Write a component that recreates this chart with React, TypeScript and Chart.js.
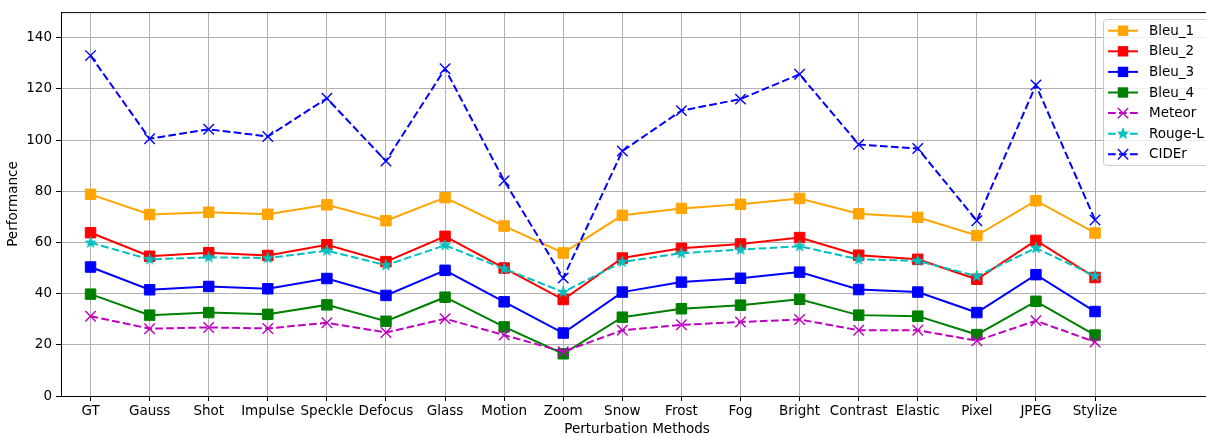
import React, { useEffect, useRef } from "react";
import { Chart, registerables } from "chart.js";
Chart.register(...registerables);

const categories = ["GT", "Gauss", "Shot", "Impulse", "Speckle", "Defocus", "Glass", "Motion", "Zoom", "Snow", "Frost", "Fog", "Bright", "Contrast", "Elastic", "Pixel", "JPEG", "Stylize"];
const bleu1 = [78.8, 70.9, 71.8, 71.0, 74.7, 68.5, 77.5, 66.4, 55.9, 70.6, 73.3, 74.9, 77.2, 71.2, 69.8, 62.7, 76.3, 63.7];
const bleu2 = [63.8, 54.6, 56.0, 54.9, 59.1, 52.5, 62.4, 50.0, 37.7, 53.9, 57.7, 59.4, 61.9, 55.0, 53.4, 45.6, 60.8, 46.3];
const bleu3 = [50.4, 41.5, 42.8, 41.9, 45.9, 39.3, 49.1, 36.8, 24.6, 40.6, 44.5, 46.0, 48.4, 41.6, 40.6, 32.6, 47.4, 33.0];
const bleu4 = [39.8, 31.6, 32.6, 31.9, 35.6, 29.2, 38.6, 27.0, 16.5, 30.8, 34.1, 35.5, 37.8, 31.6, 31.2, 24.0, 37.0, 23.8];
const meteor = [31.2, 26.3, 26.8, 26.4, 28.6, 24.8, 30.2, 23.8, 17.3, 25.7, 27.8, 28.9, 29.9, 25.7, 25.7, 21.6, 29.4, 21.1];
const rougeL = [59.9, 53.4, 54.2, 53.9, 56.8, 51.1, 58.9, 49.7, 40.6, 52.4, 55.8, 57.2, 58.5, 53.4, 52.8, 46.8, 57.8, 46.9];
const cider = [133.0, 100.5, 104.2, 101.4, 116.3, 91.8, 127.9, 84.1, 46.1, 95.7, 111.5, 116.0, 125.7, 98.3, 96.7, 68.5, 121.5, 68.8];
const yTicks = [0, 20, 40, 60, 80, 100, 120, 140];

const FONT = "DejaVu Sans";
const FS = 13.5;
const DASH = [7.7, 3.3];
const W = 1222;
const H = 436;

function makeStar(color: string, r: number) {
  const size = Math.ceil(r * 2 + 4);
  const c = document.createElement("canvas");
  c.width = size;
  c.height = size;
  const ctx = c.getContext("2d")!;
  const cx = size / 2, cy = size / 2;
  const inner = r * 0.381966;
  ctx.beginPath();
  for (let i = 0; i < 10; i++) {
    const rr = i % 2 === 0 ? r : inner;
    const a = -Math.PI / 2 + (i * Math.PI) / 5;
    const x = cx + rr * Math.cos(a);
    const y = cy + rr * Math.sin(a);
    if (i === 0) ctx.moveTo(x, y);
    else ctx.lineTo(x, y);
  }
  ctx.closePath();
  ctx.fillStyle = color;
  ctx.fill();
  ctx.lineWidth = 1;
  ctx.strokeStyle = color;
  ctx.stroke();
  return c;
}

type Series = { label: string; data: number[]; color: string; marker: string; dashed: boolean };
const series: Series[] = [
  { label: "Bleu_1", data: bleu1, color: "#FFA500", marker: "rect", dashed: false },
  { label: "Bleu_2", data: bleu2, color: "#FF0000", marker: "rect", dashed: false },
  { label: "Bleu_3", data: bleu3, color: "#0000FF", marker: "rect", dashed: false },
  { label: "Bleu_4", data: bleu4, color: "#008000", marker: "rect", dashed: false },
  { label: "Meteor", data: meteor, color: "#BF00BF", marker: "crossRot", dashed: true },
  { label: "Rouge-L", data: rougeL, color: "#00BFBF", marker: "star", dashed: true },
  { label: "CIDEr", data: cider, color: "#0000FF", marker: "crossRot", dashed: true },
];

export default function App() {
  const ref = useRef<HTMLCanvasElement | null>(null);
  useEffect(() => {
    document.body.style.margin = "0";
    document.body.style.overflow = "hidden";
    document.documentElement.style.overflow = "hidden";
    const star = makeStar("#00BFBF", 5.6);
    const datasets = series.map((s, i) => ({
      label: s.label,
      data: s.data.map((v, j) => ({ x: j, y: v })),
      borderColor: s.color,
      backgroundColor: s.color,
      borderWidth: 2,
      borderDash: s.dashed ? DASH : [],
      pointStyle: s.marker === "star" ? (star as any) : s.marker,
      pointRadius: 7.4,
      pointBorderWidth: s.marker === "rect" ? 1 : 1.4,
      pointBackgroundColor: s.color,
      pointBorderColor: s.color,
      tension: 0,
      fill: false,
      order: series.length - i,
    }));

    const framePlugin = {
      id: "frame",
      afterDraw(chart: any) {
        const { ctx, chartArea } = chart;
        ctx.save();
        ctx.strokeStyle = "#000";
        ctx.lineWidth = 1;
        ctx.beginPath();
        ctx.moveTo(chartArea.left, chartArea.top + 0.5);
        ctx.lineTo(chartArea.right, chartArea.top + 0.5);
        ctx.moveTo(chartArea.right - 0.5, chartArea.top);
        ctx.lineTo(chartArea.right - 0.5, chartArea.bottom);
        ctx.stroke();

        // legend
        const bx = 1103.5, by = 19.5, bw = 108, bh = 146, rad = 3;
        ctx.beginPath();
        ctx.moveTo(bx + rad, by);
        ctx.lineTo(bx + bw - rad, by);
        ctx.arcTo(bx + bw, by, bx + bw, by + rad, rad);
        ctx.lineTo(bx + bw, by + bh - rad);
        ctx.arcTo(bx + bw, by + bh, bx + bw - rad, by + bh, rad);
        ctx.lineTo(bx + rad, by + bh);
        ctx.arcTo(bx, by + bh, bx, by + bh - rad, rad);
        ctx.lineTo(bx, by + rad);
        ctx.arcTo(bx, by, bx + rad, by, rad);
        ctx.closePath();
        ctx.fillStyle = "rgba(255,255,255,0.8)";
        ctx.fill();
        ctx.strokeStyle = "#cccccc";
        ctx.lineWidth = 1;
        ctx.stroke();

        ctx.font = `${FS}px "${FONT}"`;
        ctx.textBaseline = "middle";
        ctx.textAlign = "left";
        chart.data.datasets.forEach((ds: any, i: number) => {
          const s = series[i];
          const y = 30.7 + i * 20.6;
          ctx.save();
          ctx.strokeStyle = ds.borderColor;
          ctx.lineWidth = 2;
          ctx.setLineDash(s.dashed ? DASH : []);
          ctx.beginPath();
          ctx.moveTo(1108, y);
          ctx.lineTo(1138, y);
          ctx.stroke();
          ctx.setLineDash([]);
          const mx = 1123;
          if (s.marker === "rect") {
            ctx.fillStyle = ds.borderColor;
            ctx.fillRect(mx - 5.2, y - 5.2, 10.4, 10.4);
          } else if (s.marker === "crossRot") {
            ctx.lineWidth = 1.4;
            ctx.beginPath();
            ctx.moveTo(mx - 5.2, y - 5.2);
            ctx.lineTo(mx + 5.2, y + 5.2);
            ctx.moveTo(mx - 5.2, y + 5.2);
            ctx.lineTo(mx + 5.2, y - 5.2);
            ctx.stroke();
          } else {
            ctx.drawImage(star, mx - star.width / 2, y - star.height / 2);
          }
          ctx.restore();
          ctx.fillStyle = "#000";
          ctx.fillText(ds.label, 1149, y + 0.5);
        });
        ctx.restore();
      },
    };

    const chart = new Chart(ref.current!, {
      type: "line",
      data: { datasets: datasets as any },
      plugins: [framePlugin],
      options: {
        responsive: false,
        maintainAspectRatio: false,
        animation: false,
        devicePixelRatio: 1,
        layout: { padding: { top: 12, left: 0, right: 0, bottom: 0 } },
        plugins: { legend: { display: false }, tooltip: { enabled: false } },
        scales: {
          x: {
            type: "linear",
            min: -0.5,
            max: 19,
            afterBuildTicks: (s: any) => {
              s.ticks = categories.map((_, i) => ({ value: i }));
            },
            afterFit: (s: any) => {
              s.height = 40;
            },
            ticks: {
              autoSkip: false,
              maxRotation: 0,
              padding: 2,
              color: "#000",
              font: { family: FONT, size: FS },
              callback: (v: any) => categories[Math.round(v)] ?? "",
            },
            grid: { color: "#b0b0b0", lineWidth: 1, tickLength: 5, tickColor: "#000", tickWidth: 1 },
            border: { color: "#000", width: 1 },
            title: {
              display: true,
              text: "Perturbation Methods",
              color: "#000",
              font: { family: FONT, size: FS },
              padding: { top: 0, bottom: -2 },
            },
          },
          y: {
            type: "linear",
            min: 0,
            max: 150,
            afterBuildTicks: (s: any) => {
              s.ticks = yTicks.map((v) => ({ value: v }));
            },
            afterFit: (s: any) => {
              s.width = 61;
            },
            ticks: { padding: 4, color: "#000", font: { family: FONT, size: FS } },
            grid: { color: "#b0b0b0", lineWidth: 1, tickLength: 5, tickColor: "#000", tickWidth: 1 },
            border: { color: "#000", width: 1 },
            title: {
              display: true,
              text: "Performance",
              color: "#000",
              font: { family: FONT, size: FS },
              padding: { top: 5, bottom: 0 },
            },
          },
        },
      },
    });
    return () => chart.destroy();
  }, []);
  return (
    <div style={{ position: "absolute", left: 0, top: 0, width: W, height: H, overflow: "hidden", background: "#fff" }}>
      <canvas ref={ref} width={W} height={H} style={{ display: "block", width: W, height: H }} />
    </div>
  );
}
